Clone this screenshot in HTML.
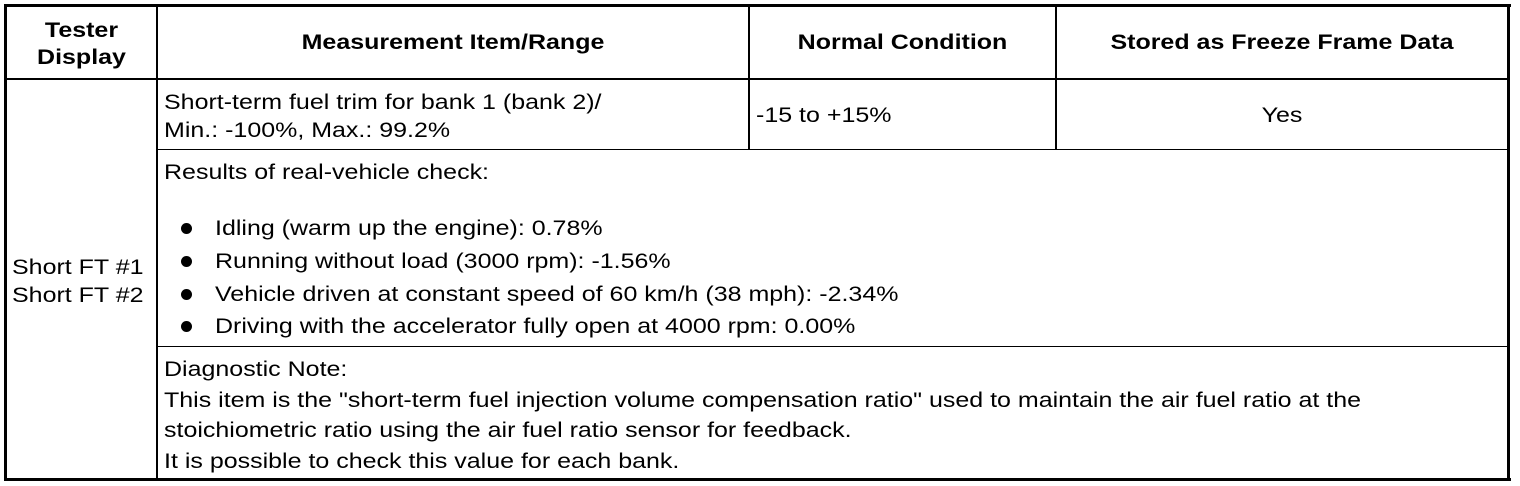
<!DOCTYPE html>
<html><head><style>
body{margin:0;width:1520px;height:486px;background:#fff;position:relative;overflow:hidden;font-family:"Liberation Sans",Arial,sans-serif;font-size:21px;color:#000}
.l{position:absolute;background:#000}
.t{position:absolute;white-space:nowrap;line-height:24px;transform:scaleX(1.19);transform-origin:left top}
.c{text-align:center;transform-origin:center top}
.b{font-weight:bold}
.dot{position:absolute;width:11px;height:11px;border-radius:50%;background:#000}
</style></head><body>
<div class="l" style="left:4px;top:4px;width:1507px;height:3px"></div>
<div class="l" style="left:4px;top:478px;width:1507px;height:3px"></div>
<div class="l" style="left:4px;top:4px;width:3px;height:477px"></div>
<div class="l" style="left:1507px;top:4px;width:3px;height:477px"></div>
<div class="l" style="left:4px;top:78px;width:1506px;height:2px"></div>
<div class="l" style="left:156px;top:4px;width:2px;height:477px"></div>
<div class="l" style="left:748px;top:4px;width:2px;height:146px"></div>
<div class="l" style="left:1055px;top:4px;width:2px;height:146px"></div>
<div class="l" style="left:157px;top:149px;width:1352px;height:1px"></div>
<div class="l" style="left:157px;top:346px;width:1352px;height:1px"></div>

<div class="t b c" style="left:7px;width:149px;top:17px;line-height:27px">Tester<br>Display</div>
<div class="t b c" style="left:158px;width:590px;top:31px">Measurement Item/Range</div>
<div class="t b c" style="left:750px;width:305px;top:31px">Normal Condition</div>
<div class="t b c" style="left:1057px;width:450px;top:31px">Stored as Freeze Frame Data</div>

<div class="t" style="left:164px;top:89px;line-height:28px">Short-term fuel trim for bank 1 (bank 2)/<br>Min.: -100%, Max.: 99.2%</div>
<div class="t" style="left:756px;top:104px">-15 to +15%</div>
<div class="t c" style="left:1057px;width:450px;top:104px">Yes</div>

<div class="t" style="left:12px;top:254px;line-height:28px">Short FT #1<br>Short FT #2</div>

<div class="t" style="left:164px;top:161px">Results of real-vehicle check:</div>
<div class="dot" style="left:181px;top:223px"></div>
<div class="dot" style="left:181px;top:256px"></div>
<div class="dot" style="left:181px;top:289px"></div>
<div class="dot" style="left:181px;top:321px"></div>
<div class="t" style="left:215px;top:217px">Idling (warm up the engine): 0.78%</div>
<div class="t" style="left:215px;top:250px">Running without load (3000 rpm): -1.56%</div>
<div class="t" style="left:215px;top:283px">Vehicle driven at constant speed of 60 km/h (38 mph): -2.34%</div>
<div class="t" style="left:215px;top:315px">Driving with the accelerator fully open at 4000 rpm: 0.00%</div>

<div class="t" style="left:164px;top:355px;line-height:30.5px">Diagnostic Note:<br>This item is the "short-term fuel injection volume compensation ratio" used to maintain the air fuel ratio at the<br>stoichiometric ratio using the air fuel ratio sensor for feedback.<br>It is possible to check this value for each bank.</div>
</body></html>
